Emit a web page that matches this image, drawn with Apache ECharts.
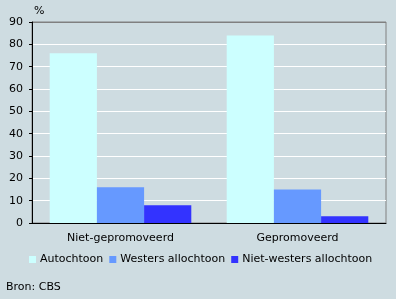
<!DOCTYPE html>
<html><head><meta charset="utf-8">
<script src="https://cdn.jsdelivr.net/npm/echarts@6/dist/echarts.min.js"></script>
<style>html,body{margin:0;padding:0;background:#CEDCE1;}#c{width:396px;height:299px;}</style>
</head><body><div id="c"></div>
<script>
var categories = ['Niet-gepromoveerd', 'Gepromoveerd'];
var autochtoon = [76, 84];
var westers = [16, 15];
var nietWesters = [8, 3];
var yTicks = [0, 10, 20, 30, 40, 50, 60, 70, 80, 90];
var seriesNames = ['Autochtoon', 'Westers allochtoon', 'Niet-westers allochtoon'];

var font = 'DejaVu Sans';
var chart = echarts.init(document.getElementById('c'));
var splitColors = yTicks.map(function (v, i) { return i === yTicks.length - 1 ? '#808080' : '#ffffff'; });
chart.setOption({
  backgroundColor: '#CEDCE1',
  animation: false,
  textStyle: { fontFamily: font },
  title: [
    { text: '%', left: 34, top: 6, padding: 0, textStyle: { fontFamily: font, fontSize: 11, fontWeight: 'normal', color: '#000' } },
    { text: 'Bron: CBS', left: 6, top: 282, padding: 0, textStyle: { fontFamily: font, fontSize: 11, fontWeight: 'normal', color: '#000' } }
  ],
  grid: { left: 32, right: 10, top: 22, bottom: 76, show: true, borderColor: '#808080', borderWidth: 1, backgroundColor: 'transparent' },
  legend: {
    left: 29, top: 254, padding: 0, itemWidth: 7, itemHeight: 7, itemGap: 6, icon: 'rect',
    textStyle: { fontFamily: font, fontSize: 11, color: '#000', padding: [0, 0, 0, -1] },
    data: seriesNames
  },
  xAxis: {
    type: 'category', data: categories,
    axisLine: { lineStyle: { color: '#000', width: 1 } },
    axisTick: { show: false },
    axisLabel: { color: '#000', fontSize: 11, fontFamily: font, margin: 10 }
  },
  yAxis: {
    type: 'value', min: 0, max: 90, interval: 10,
    axisLine: { show: true, lineStyle: { color: '#000', width: 1 } },
    axisTick: { show: true, length: 3, lineStyle: { color: '#000' } },
    axisLabel: { color: '#000', fontSize: 11, fontFamily: font, margin: 9 },
    splitLine: { show: true, lineStyle: { color: splitColors, width: 1 } }
  },
  series: [
    { name: seriesNames[0], type: 'bar', data: autochtoon, itemStyle: { color: '#CCFFFF' }, barGap: '0%', barCategoryGap: '20%' },
    { name: seriesNames[1], type: 'bar', data: westers, itemStyle: { color: '#6699FF' } },
    { name: seriesNames[2], type: 'bar', data: nietWesters, itemStyle: { color: '#3333FF' } }
  ]
});
</script></body></html>
